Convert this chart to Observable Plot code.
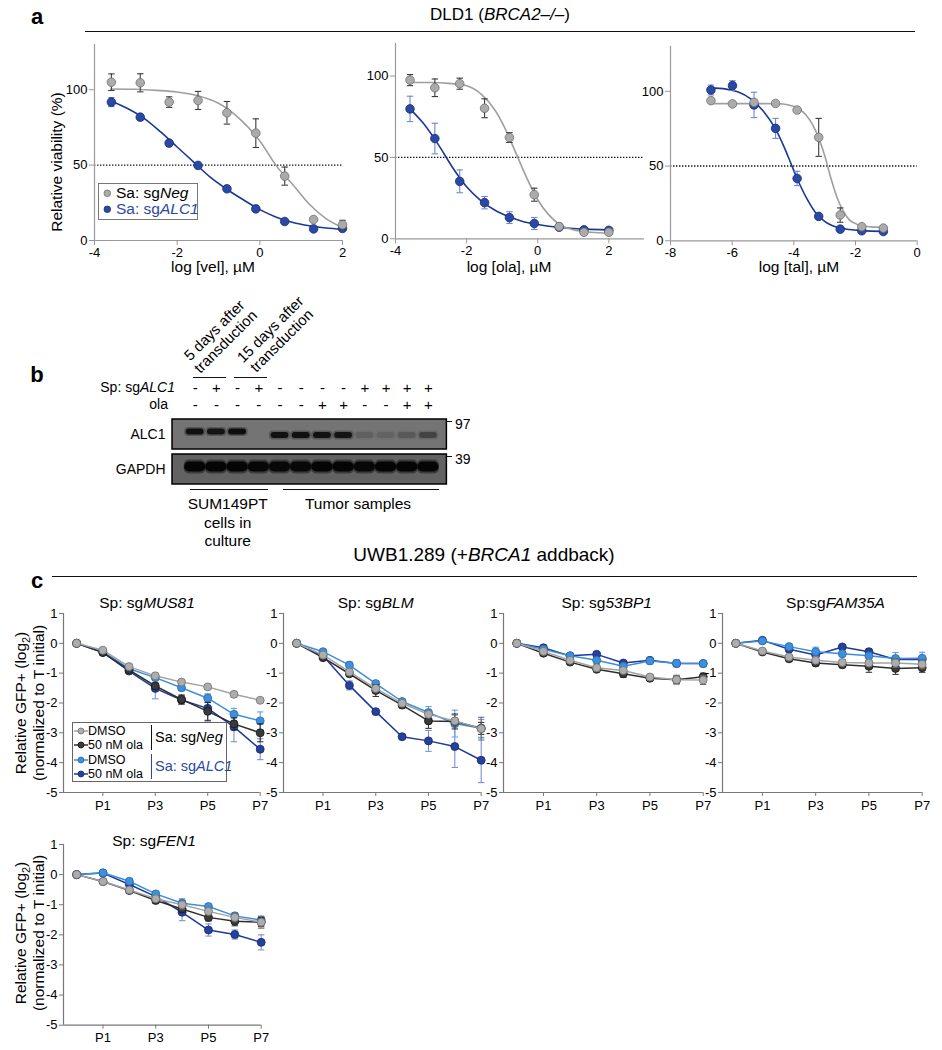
<!DOCTYPE html>
<html>
<head>
<meta charset="utf-8">
<script src="https://cdn.jsdelivr.net/npm/d3@7"></script>
<script src="https://cdn.jsdelivr.net/npm/@observablehq/plot@0.6"></script>
<style>
  html,body{margin:0;padding:0;background:#fff;}
  #fig{position:relative;width:942px;height:1050px;overflow:hidden;background:#fff;
       font-family:"Liberation Sans",Arial,Helvetica,sans-serif;color:#000;}
  .t{position:absolute;white-space:nowrap;line-height:1.1;}
  .pw{position:absolute;}
  .pw svg{overflow:visible;display:block;}
  .hl{position:absolute;height:0;border-top:1.5px solid #111;}
  .axA g[aria-label$="axis tick"]{stroke:#999;}
  .axC g[aria-label$="axis tick"]{stroke:#777;}
  .pw g[aria-label$="tick label"]{font-size:13px;}
  .blot g[aria-label$="tick label"]{font-size:14px;}
  .box{position:absolute;box-sizing:border-box;background:#fff;}
</style>
</head>
<body>
<div id="fig"></div>
<script>
// ---------------- DATA: panel a (dose response) ----------------
const velConc = [-3.592, -2.893, -2.194, -1.495, -0.796, -0.097, 0.602, 1.301, 2.0];
const velNeg = [105, 104.6, 91.8, 92.9, 84.7, 71.2, 42.7, 13.9, 10.4];
const velNegErr = [5.5, 6, 3.5, 6, 7.5, 9.5, 6, 0, 3];
const velALC1 = [91.8, 81.8, 64.6, 49.8, 34.3, 21, 12.6, 7.7, 8];
const velALC1Err = [3, 2, 0, 0, 0, 0, 0, 0, 0];
const velFitNeg = [[-3.6,100.5],[-3,100.3],[-2.5,99.6],[-2,98.5],[-1.5,96],[-1,91],[-0.5,81],[0,66],[0.4,49.5],[0.8,37],[1.2,24],[1.6,14.5],[2,8.5]];
const velFitALC1 = [[-3.6,92.5],[-3.2,87.5],[-2.8,81],[-2.4,72],[-2,62],[-1.6,52],[-1.2,42],[-0.8,34],[-0.4,27],[0,20.5],[0.4,15.5],[0.8,12],[1.2,9.8],[1.6,8.3],[2,7.5]];

const olaConc = [-3.592, -2.893, -2.194, -1.495, -0.796, -0.097, 0.602, 1.301, 2.0];
const olaNeg = [97.5, 92.8, 95.3, 80.2, 62.2, 27.1, 7.5, 4.0, 4.0];
const olaNegErr = [3.4, 5.4, 3.4, 5.8, 3, 4, 2, 1, 0];
const olaALC1 = [79.8, 61.6, 35.3, 22.2, 13.0, 9.4, 7.1, 5.5, 5.2];
const olaALC1Err = [7.8, 9.4, 7, 3.8, 3.6, 3.7, 0, 0, 0];
const olaFitNeg = [[-3.6,96],[-3,96],[-2.5,95.5],[-2,94],[-1.6,89],[-1.2,79],[-0.9,67],[-0.6,52],[-0.3,37],[0,24],[0.3,15],[0.6,9],[1,5.5],[1.5,4],[2,3.5]];
const olaFitALC1 = [[-3.6,80],[-3.2,70.5],[-2.8,58],[-2.4,44],[-2,32],[-1.6,23.5],[-1.2,17.5],[-0.8,13.5],[-0.4,10.5],[0,8.8],[0.5,7.2],[1,6.3],[1.5,5.8],[2,5.5]];

const talConc = [-6.689, -5.990, -5.291, -4.592, -3.893, -3.194, -2.495, -1.796, -1.097];
const talNeg = [93.8, 91.6, 92.6, 91.9, 87.5, 69.2, 17.2, 9.4, 8.5];
const talNegErr = [0, 1.5, 0, 0, 0, 12.7, 4.8, 0, 0];
const talALC1 = [100.9, 103.8, 90.9, 75.2, 41.7, 16.3, 7.8, 6.7, 6.2];
const talALC1Err = [3.3, 3.3, 8.5, 6.7, 4.8, 0, 0, 0, 0];
const talFitNeg = [[-6.7,91.8],[-6,91.8],[-5,91.8],[-4.5,91.7],[-4.2,91],[-3.9,89],[-3.6,84],[-3.4,78],[-3.2,69],[-3,57],[-2.8,42],[-2.6,29],[-2.4,20],[-2.2,14],[-2,11.5],[-1.8,10],[-1.5,9.3],[-1.1,9]];
const talFitALC1 = [[-6.7,102.3],[-6.2,101.5],[-5.8,99.5],[-5.4,95],[-5,87],[-4.6,75],[-4.3,62],[-4.1,52],[-3.9,42],[-3.6,29],[-3.3,19],[-3,13],[-2.6,9],[-2.2,7.5],[-1.8,6.8],[-1.1,6.3]];

const viabilityTicks = [0, 50, 100];
const velTicks = [-4, -2, 0, 2];
const olaTicks = [-4, -2, 0, 2];
const talTicks = [-8, -6, -4, -2, 0];

// ---------------- DATA: panel b (western blot) ----------------
const lanes = [1, 2, 3, 4, 5, 6, 7, 8, 9, 10, 11, 12];
const laneGroup = ["culture","culture","culture","culture","tumor","tumor","tumor","tumor","tumor","tumor","tumor","tumor"];
const sgALC1Signs = ["-", "+", "-", "+", "-", "-", "-", "-", "+", "+", "+", "+"];
const olaSigns    = ["-", "-", "-", "-", "-", "-", "+", "+", "-", "-", "+", "+"];
const blotRows = ["ALC1", "GAPDH"];
const alc1Band = [0.92, 0.88, 0.95, 0, 0.9, 0.92, 0.9, 0.88, 0.14, 0.12, 0.2, 0.38];
const gapdhBand = [1, 1, 1, 0.97, 0.95, 0.95, 1, 1, 0.95, 1, 1, 1];
const markerKDa = ["97", "39"];

// ---------------- DATA: panel c (GFP competition) ----------------
const passages = [0, 1, 2, 3, 4, 5, 6, 7];
const passageTicks = [1, 3, 5, 7];
const passageTickLabels = ["P1", "P3", "P5", "P7"];
const gfpYTicks = [1, 0, -1, -2, -3, -4, -5];
const gfpSeries = ["DMSO | Sa: sgNeg", "50 nM ola | Sa: sgNeg", "DMSO | Sa: sgALC1", "50 nM ola | Sa: sgALC1"];
// rows: dmsoNeg, olaNeg, dmsoALC1, olaALC1
const gfpMUS81 = [
  [0, -0.23, -0.78, -1.09, -1.30, -1.46, -1.71, -1.91],
  [0, -0.31, -0.89, -1.43, -1.88, -2.28, -2.70, -3.00],
  [0, -0.28, -0.85, -1.15, -1.49, -1.84, -2.38, -2.60],
  [0, -0.30, -0.93, -1.51, -1.90, -2.18, -2.80, -3.55]];
const errMUS81 = [
  [0, 0.03, 0.05, 0.08, 0.05, 0.05, 0.05, 0.05],
  [0, 0.03, 0.05, 0.10, 0.15, 0.30, 0.20, 0.30],
  [0, 0.03, 0.05, 0.10, 0.10, 0.15, 0.20, 0.30],
  [0, 0.03, 0.08, 0.35, 0.15, 0.45, 0.50, 0.35]];
const gfpBLM = [
  [0, -0.39, -0.96, -1.51, -2.01, -2.38, -2.60, -2.86],
  [0, -0.48, -1.02, -1.58, -2.07, -2.60, -2.62, -2.85],
  [0, -0.28, -0.73, -1.35, -1.95, -2.32, -2.69, -2.85],
  [0, -0.42, -1.41, -2.29, -3.13, -3.27, -3.46, -3.92]];
const errBLM = [
  [0, 0.05, 0.08, 0.10, 0.08, 0.10, 0.20, 0.38],
  [0, 0.05, 0.08, 0.20, 0.10, 0.25, 0.25, 0.20],
  [0, 0.08, 0.10, 0.08, 0.08, 0.20, 0.45, 0.30],
  [0, 0.05, 0.15, 0.05, 0.05, 0.35, 0.70, 0.75]];
const gfp53BP1 = [
  [0, -0.27, -0.57, -0.82, -0.91, -1.13, -1.22, -1.23],
  [0, -0.33, -0.63, -0.87, -1.02, -1.17, -1.22, -1.12],
  [0, -0.20, -0.42, -0.57, -0.77, -0.59, -0.67, -0.68],
  [0, -0.15, -0.42, -0.37, -0.66, -0.57, -0.68, -0.68]];
const err53BP1 = [
  [0, 0.03, 0.05, 0.12, 0.10, 0.08, 0.15, 0.15],
  [0, 0.03, 0.05, 0.08, 0.12, 0.08, 0.12, 0.12],
  [0, 0.03, 0.05, 0.08, 0.08, 0.10, 0.12, 0.10],
  [0, 0.03, 0.03, 0.05, 0.05, 0.08, 0.08, 0.05]];
const gfpFAM35A = [
  [0, -0.26, -0.46, -0.57, -0.64, -0.66, -0.66, -0.70],
  [0, -0.29, -0.52, -0.66, -0.72, -0.77, -0.84, -0.82],
  [0, 0.08, -0.11, -0.28, -0.35, -0.42, -0.51, -0.50],
  [0, 0.10, -0.20, -0.39, -0.12, -0.28, -0.54, -0.54]];
const errFAM35A = [
  [0, 0.03, 0.05, 0.10, 0.10, 0.10, 0.15, 0.15],
  [0, 0.03, 0.05, 0.10, 0.10, 0.20, 0.20, 0.15],
  [0, 0.05, 0.08, 0.15, 0.10, 0.10, 0.20, 0.20],
  [0, 0.03, 0.05, 0.05, 0.05, 0.10, 0.10, 0.10]];
const gfpFEN1 = [
  [0, -0.23, -0.51, -0.80, -1.00, -1.22, -1.42, -1.58],
  [0, -0.23, -0.53, -0.86, -1.14, -1.42, -1.55, -1.58],
  [0, 0.06, -0.22, -0.64, -0.95, -1.06, -1.37, -1.51],
  [0, 0.05, -0.33, -0.73, -1.25, -1.84, -1.99, -2.25]];
const errFEN1 = [
  [0, 0.03, 0.05, 0.08, 0.15, 0.12, 0.12, 0.20],
  [0, 0.03, 0.05, 0.08, 0.10, 0.12, 0.15, 0.15],
  [0, 0.03, 0.08, 0.08, 0.15, 0.08, 0.10, 0.12],
  [0, 0.03, 0.08, 0.10, 0.28, 0.20, 0.15, 0.25]];

// ---------------- STYLE ----------------
const FONT = '"Liberation Sans", Arial, Helvetica, sans-serif';
const gray = {line: "#9f9f9f", fill: "#ababab", stroke: "#6f6f6f", err: "#3a3a3a"};
const blue = {line: "#1a3896", fill: "#2a49a5", stroke: "#18297a", err: "#6f86d2"};
const gfpStyle = [
  {line: "#a3a3a3", fill: "#adadad", stroke: "#707070", err: "#666"},
  {line: "#2e2e2e", fill: "#3a3a3a", stroke: "#151515", err: "#222"},
  {line: "#3d8fdc", fill: "#3f90dc", stroke: "#2769b0", err: "#5a9ae0"},
  {line: "#1e3a98", fill: "#24419d", stroke: "#16296e", err: "#6d86d2"}];
const drawOrder = [3, 2, 1, 0];
const capSym = { draw(ctx) { ctx.moveTo(-3.2, 0); ctx.lineTo(3.2, 0); } };

const fig = document.getElementById("fig");

function placePlot(frame, m, opts, cls) {
  const [x0, y0, x1, y1] = frame;
  const svg = Plot.plot({
    width: (x1 - x0) + m.left + m.right,
    height: (y1 - y0) + m.top + m.bottom,
    marginTop: m.top, marginRight: m.right, marginBottom: m.bottom, marginLeft: m.left,
    style: {fontFamily: FONT, fontSize: (m.font || 13) + "px", background: "transparent", overflow: "visible", color: "#000"},
    ...opts
  });
  const w = document.createElement("div");
  w.className = "pw " + (cls || "");
  w.style.left = (x0 - m.left) + "px";
  w.style.top = (y0 - m.top) + "px";
  w.appendChild(svg);
  fig.appendChild(w);
}

function label(html, x, y, o = {}) {
  const d = document.createElement("div");
  d.className = "t";
  d.innerHTML = html;
  const ax = o.align === "right" ? "-100%" : o.align === "left" ? "0" : "-50%";
  d.style.left = x + "px";
  d.style.top = y + "px";
  d.style.fontSize = (o.size || 15) + "px";
  if (o.weight) d.style.fontWeight = o.weight;
  if (o.color) d.style.color = o.color;
  if (o.lh) d.style.lineHeight = o.lh + "px";
  if (o.center) d.style.textAlign = "center";
  d.style.transform = `translate(${ax},-50%)` + (o.rotate ? ` rotate(${o.rotate}deg)` : "");
  fig.appendChild(d);
  return d;
}
function hline(x0, x1, y, w = 1.5, color = "#111") {
  const d = document.createElement("div");
  d.className = "hl";
  d.style.left = x0 + "px"; d.style.top = (y - w / 2) + "px";
  d.style.width = (x1 - x0) + "px";
  d.style.borderTop = `${w}px solid ${color}`;
  fig.appendChild(d);
}
function vline(x, y0, y1, w, color) {
  const d = document.createElement("div");
  d.style.cssText = `position:absolute;left:${x - w / 2}px;top:${y0}px;width:0;height:${y1 - y0}px;border-left:${w}px solid ${color}`;
  fig.appendChild(d);
}
function icon(x, y, st, withLine, r) {
  const d = document.createElement("div");
  d.style.position = "absolute";
  const W = withLine ? 14 : 2 * r + 2, H = 2 * r + 2;
  d.style.left = (x - W / 2) + "px"; d.style.top = (y - H / 2) + "px";
  d.innerHTML = `<svg width="${W}" height="${H}" style="display:block;overflow:visible">` +
    (withLine ? `<line x1="0" x2="${W}" y1="${H/2}" y2="${H/2}" stroke="${st.line}" stroke-width="1.5"/>` : "") +
    `<circle cx="${W/2}" cy="${H/2}" r="${r}" fill="${st.fill}" stroke="${st.stroke}" stroke-width="0.8"/></svg>`;
  fig.appendChild(d);
}
function box(x0, y0, x1, y1, border) {
  const d = document.createElement("div");
  d.className = "box";
  d.style.left = x0 + "px"; d.style.top = y0 + "px";
  d.style.width = (x1 - x0) + "px"; d.style.height = (y1 - y0) + "px";
  d.style.border = border;
  fig.appendChild(d);
}

function errMarks(E, xk, color, w) {
  return [
    Plot.ruleX(E, {x: xk, y1: d => d.y - d.e, y2: d => d.y + d.e, stroke: color, strokeWidth: w}),
    Plot.dot(E, {x: xk, y: d => d.y - d.e, symbol: capSym, fill: "none", stroke: color, strokeWidth: w}),
    Plot.dot(E, {x: xk, y: d => d.y + d.e, symbol: capSym, fill: "none", stroke: color, strokeWidth: w})
  ];
}

// ---------------- PANEL a ----------------
function dosePlot(frame, xDomain, yDomain, xTicks, conc, neg, negErr, alc, alcErr, fitNeg, fitAlc) {
  const rows = (vals, errs) => conc.map((x, i) => ({x, y: vals[i], e: errs[i]}));
  const N = rows(neg, negErr), A = rows(alc, alcErr);
  placePlot(frame, {left: 40, right: 10, top: 5, bottom: 30}, {
    x: {domain: xDomain, ticks: xTicks, tickFormat: d => String(d), tickSize: 5, tickPadding: 2, label: null},
    y: {domain: yDomain, ticks: viabilityTicks, tickFormat: d => String(d), tickSize: 5, tickPadding: 2, label: null},
    marks: [
      Plot.ruleY([50], {stroke: "#111", strokeWidth: 1.4, strokeDasharray: "1.4,1.6"}),
      Plot.ruleX([xDomain[0]], {stroke: "#999", strokeWidth: 1.2}),
      Plot.ruleY([yDomain[0]], {stroke: "#999", strokeWidth: 1.2}),
      Plot.line(fitAlc, {x: d => d[0], y: d => d[1], stroke: blue.line, strokeWidth: 1.6, curve: "monotone-x"}),
      Plot.line(fitNeg, {x: d => d[0], y: d => d[1], stroke: gray.line, strokeWidth: 1.6, curve: "monotone-x"}),
      ...errMarks(A.filter(d => d.e > 0), "x", blue.err, 1.1),
      Plot.dot(A, {x: "x", y: "y", r: 4.3, fill: blue.fill, stroke: blue.stroke, strokeWidth: 0.8}),
      ...errMarks(N.filter(d => d.e > 0), "x", gray.err, 1.1),
      Plot.dot(N, {x: "x", y: "y", r: 4.3, fill: gray.fill, stroke: gray.stroke, strokeWidth: 0.8})
    ]
  }, "axA");
}
dosePlot([94, 44, 342, 240], [-4, 2], [0, 130], velTicks, velConc, velNeg, velNegErr, velALC1, velALC1Err, velFitNeg, velFitALC1);
dosePlot([395, 43, 643.9, 238.3], [-4, 3], [0, 120], olaTicks, olaConc, olaNeg, olaNegErr, olaALC1, olaALC1Err, olaFitNeg, olaFitALC1);
dosePlot([670, 45.7, 916.7, 240], [-8, 0], [0, 130], talTicks, talConc, talNeg, talNegErr, talALC1, talALC1Err, talFitNeg, talFitALC1);

label("a", 37, 17, {size: 22, weight: "bold"});
hline(85, 915, 32);
label("DLD1 (<i>BRCA2–/–</i>)", 500, 15, {size: 17});
label("Relative viability (%)", 57, 162, {size: 15.5, rotate: -90});
label("log [vel], µM", 213, 267, {size: 15.5});
label("log [ola], µM", 509, 267, {size: 15.5});
label("log [tal], µM", 799, 267, {size: 15.5});
box(98, 183, 198, 220, "1.2px solid #777");
icon(107, 193, gray, false, 3.3);
label("Sa: sg<i>Neg</i>", 116, 193, {size: 15.5, align: "left"});
icon(107, 209, blue, false, 3.3);
label("Sa: sg<i>ALC1</i>", 116, 209, {size: 15.5, align: "left", color: "#2a49a5"});

// ---------------- PANEL b ----------------
const blotX = [-0.07, 12.87];
placePlot([172.3, 387.7, 446.7, 405], {left: 5, right: 5, top: 8, bottom: 8}, {
  x: {domain: blotX, axis: null},
  y: {type: "point", domain: ["sg", "ola"], padding: 0, axis: null},
  marks: [
    Plot.text(lanes, {x: d => d, y: () => "sg", text: (d, i) => sgALC1Signs[i], fontSize: 15}),
    Plot.text(lanes, {x: d => d, y: () => "ola", text: (d, i) => olaSigns[i], fontSize: 15})
  ]
});
const bandRows = lanes.map((l, i) => ({lane: l, g: laneGroup[i], a: alc1Band[i], gp: gapdhBand[i]}));
placePlot([172.3, 419, 446.7, 484.3], {left: 60, right: 10, top: 2, bottom: 2, font: 14}, {
  x: {domain: blotX, axis: null},
  y: {type: "band", domain: blotRows, paddingInner: 0.15, paddingOuter: 0, tickSize: 0, tickPadding: 7, label: null},
  opacity: {type: "identity"},
  marks: [
    Plot.barX(blotRows, {y: d => d, x1: () => blotX[0], x2: () => blotX[1], fill: d => d === "ALC1" ? "#747474" : "#626262"}),
    Plot.barX(bandRows.filter(d => d.g === "culture"), {x1: d => d.lane - 0.5, x2: d => d.lane + 0.5, y: () => "ALC1", fill: "#1a1a1a", fillOpacity: d => d.a * 0.35, insetTop: 8, insetBottom: 13, rx: 4}),
    Plot.barX(bandRows.filter(d => d.g === "tumor"), {x1: d => d.lane - 0.5, x2: d => d.lane + 0.5, y: () => "ALC1", fill: "#1a1a1a", fillOpacity: d => d.a * 0.35, insetTop: 11.5, insetBottom: 9.5, rx: 4}),
    Plot.barX(bandRows.filter(d => d.g === "culture"), {x1: d => d.lane - 0.42, x2: d => d.lane + 0.42, y: () => "ALC1", fill: "#0a0a0a", fillOpacity: "a", insetTop: 9.5, insetBottom: 14.5, rx: 3}),
    Plot.barX(bandRows.filter(d => d.g === "tumor"), {x1: d => d.lane - 0.42, x2: d => d.lane + 0.42, y: () => "ALC1", fill: "#0a0a0a", fillOpacity: "a", insetTop: 13, insetBottom: 11, rx: 3}),
    Plot.barX(bandRows, {x1: d => d.lane - 0.52, x2: d => d.lane + 0.52, y: () => "GAPDH", fill: "#141414", fillOpacity: d => d.gp * 0.5, insetTop: 5.5, insetBottom: 10.5, rx: 5}),
    Plot.barX(bandRows, {x1: d => d.lane - 0.5, x2: d => d.lane + 0.5, y: () => "GAPDH", fill: "#050505", fillOpacity: "gp", insetTop: 7.5, insetBottom: 12.5, rx: 5}),
    Plot.barX(blotRows, {y: d => d, x1: () => blotX[0], x2: () => blotX[1], fill: "none", stroke: "#000", strokeWidth: 1.5})
  ]
}, "blot");
label("b", 37, 375, {size: 22, weight: "bold"});
label("5 days after<br>transduction", 220.3, 336.2, {size: 15, rotate: -45, center: true, lh: 16});
label("15 days after<br>transduction", 276.2, 334.5, {size: 15, rotate: -45, center: true, lh: 16});
hline(193, 226, 377.3, 1.3);
hline(234, 267, 377.3, 1.3);
label("Sp: sg<i>ALC1</i>", 175, 387.7, {size: 14, align: "right"});
label("ola", 168, 405, {size: 14, align: "right"});
hline(446.7, 452, 421.7, 1.2);
hline(446.7, 452, 456.7, 1.2);
label(markerKDa[0], 455, 425, {size: 14, align: "left"});
label(markerKDa[1], 455, 460, {size: 14, align: "left"});
hline(190, 267.7, 490, 1.6);
hline(283.3, 439.3, 490, 1.6);
label("SUM149PT<br>cells in<br>culture", 227.7, 522.3, {size: 15.5, center: true, lh: 18.3});
label("Tumor samples", 358, 504, {size: 15.5});

// ---------------- PANEL c ----------------
function gfpPlot(frame, vals, errs) {
  const marks = [Plot.ruleX([-0.5], {stroke: "#777", strokeWidth: 1.2}), Plot.ruleY([-5], {stroke: "#777", strokeWidth: 1.2})];
  for (const si of drawOrder) {
    const R = passages.map((p, i) => ({p, y: vals[si][i], e: errs[si][i]}));
    const st = gfpStyle[si];
    marks.push(
      Plot.line(R, {x: "p", y: "y", stroke: st.line, strokeWidth: 1.5}),
      ...errMarks(R.filter(d => d.e > 0.04), "p", st.err, 1),
      Plot.dot(R, {x: "p", y: "y", r: 4, fill: st.fill, stroke: st.stroke, strokeWidth: 0.8})
    );
  }
  placePlot(frame, {left: 40, right: 12, top: 8, bottom: 28}, {
    x: {domain: [-0.5, 7], ticks: passageTicks, tickFormat: d => passageTickLabels[passageTicks.indexOf(d)], tickSize: 4, tickPadding: 3.8, label: null},
    y: {domain: [-5, 1], ticks: gfpYTicks, tickFormat: d => String(d), tickSize: 4, tickPadding: 2, label: null},
    marks
  }, "axC");
}
gfpPlot([63.3, 612.7, 260, 791.7], gfpMUS81, errMUS81);
gfpPlot([283.3, 612.7, 481, 791.7], gfpBLM, errBLM);
gfpPlot([503.3, 612.7, 703, 791.7], gfp53BP1, err53BP1);
gfpPlot([722.3, 612.7, 922, 791.7], gfpFAM35A, errFAM35A);
gfpPlot([63.3, 844.3, 261, 1025], gfpFEN1, errFEN1);

label("c", 37, 581, {size: 22, weight: "bold"});
hline(52, 917, 577);
label("UWB1.289 (+<i>BRCA1</i> addback)", 484, 555, {size: 19});
label("Sp: sg<i>MUS81</i>", 147, 603, {size: 15.5});
label("Sp: sg<i>BLM</i>", 375.7, 603, {size: 15.5});
label("Sp: sg<i>53BP1</i>", 606.7, 603, {size: 15.5});
label("Sp:sg<i>FAM35A</i>", 835.5, 603, {size: 15.5});
label("Sp: sg<i>FEN1</i>", 154, 841, {size: 15.5});
const yLab = "Relative GFP+ (log<sub style='font-size:70%;line-height:0'>2</sub>)<br>(normalized to T initial)";
label(yLab, 28.7, 703, {size: 15.5, rotate: -90, center: true, lh: 17.5});
label(yLab, 28.7, 932.5, {size: 15.5, rotate: -90, center: true, lh: 17.5});

// legend panel c
box(71.7, 722, 227.3, 782, "1.4px solid #666");
const legY = [730.5, 745, 759.5, 774];
const legTxt = ["DMSO", "50 nM ola", "DMSO", "50 nM ola"];
legY.forEach((y, i) => {
  icon(81, y, gfpStyle[i], true, 3);
  label(legTxt[i], 88, y, {size: 12.5, align: "left", lh: 12});
});
vline(151.5, 725, 750, 1.2, "#111");
vline(151.5, 753.5, 779, 1.2, "#2a49a5");
label("Sa: sg<i>Neg</i>", 155, 737.7, {size: 14.5, align: "left"});
label("Sa: sg<i>ALC1</i>", 155, 766.5, {size: 14.5, align: "left", color: "#2a49a5"});
</script>
</body>
</html>
